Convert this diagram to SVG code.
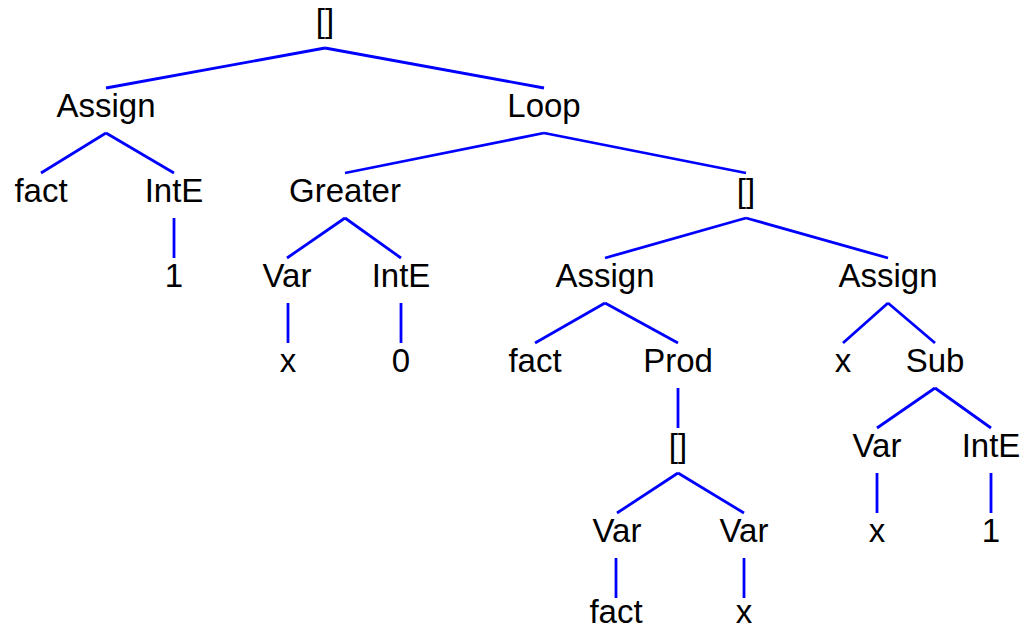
<svg xmlns="http://www.w3.org/2000/svg" width="1022" height="630" viewBox="0 0 1022 630">
<style>
text{font-family:"Liberation Sans",Arial,sans-serif;font-size:33px;fill:#000;text-anchor:middle}
.e line{stroke:#0000ff;stroke-width:2.8;stroke-linecap:butt}
</style>
<rect width="1022" height="630" fill="#fff"/>
<g class="e" id="edges">
<line x1="325" y1="48" x2="106" y2="88"/>
<line x1="325" y1="48" x2="544" y2="88"/>
<line x1="106" y1="133" x2="41" y2="173"/>
<line x1="106" y1="133" x2="174" y2="173"/>
<line x1="174" y1="218" x2="174" y2="258"/>
<line x1="544" y1="133" x2="345" y2="173"/>
<line x1="544" y1="133" x2="746" y2="173"/>
<line x1="345" y1="218" x2="287" y2="258"/>
<line x1="345" y1="218" x2="401" y2="258"/>
<line x1="288" y1="303" x2="288" y2="343"/>
<line x1="401" y1="303" x2="401" y2="343"/>
<line x1="746" y1="218" x2="605" y2="258"/>
<line x1="746" y1="218" x2="888" y2="258"/>
<line x1="605" y1="303" x2="535" y2="343"/>
<line x1="605" y1="303" x2="678" y2="343"/>
<line x1="888" y1="303" x2="843" y2="343"/>
<line x1="888" y1="303" x2="935" y2="343"/>
<line x1="678" y1="388" x2="678" y2="428"/>
<line x1="935" y1="388" x2="877" y2="428"/>
<line x1="935" y1="388" x2="991" y2="428"/>
<line x1="678" y1="473" x2="617" y2="513"/>
<line x1="678" y1="473" x2="744" y2="513"/>
<line x1="877" y1="473" x2="877" y2="513"/>
<line x1="991" y1="473" x2="991" y2="513"/>
<line x1="616" y1="558" x2="616" y2="598"/>
<line x1="744" y1="558" x2="744" y2="598"/>
</g>
<g id="n_root"><text x="325" y="32">[]</text></g>
<g id="n_assign1"><text x="106" y="117">Assign</text></g>
<g id="n_loop"><text x="544" y="117">Loop</text></g>
<g id="n_fact1"><text x="41" y="202">fact</text></g>
<g id="n_inte1"><text x="174" y="202">IntE</text></g>
<g id="n_greater"><text x="345" y="202">Greater</text></g>
<g id="n_list1"><text x="746" y="202">[]</text></g>
<g id="n_one1"><text x="174" y="287">1</text></g>
<g id="n_var1"><text x="287" y="287">Var</text></g>
<g id="n_inte2"><text x="401" y="287">IntE</text></g>
<g id="n_assign2"><text x="605" y="287">Assign</text></g>
<g id="n_assign3"><text x="888" y="287">Assign</text></g>
<g id="n_x1"><text x="288" y="372">x</text></g>
<g id="n_zero"><text x="401" y="372">0</text></g>
<g id="n_fact2"><text x="535" y="372">fact</text></g>
<g id="n_prod"><text x="678" y="372">Prod</text></g>
<g id="n_x2"><text x="843" y="372">x</text></g>
<g id="n_sub"><text x="935" y="372">Sub</text></g>
<g id="n_list2"><text x="678" y="457">[]</text></g>
<g id="n_var2"><text x="877" y="457">Var</text></g>
<g id="n_inte3"><text x="991" y="457">IntE</text></g>
<g id="n_var3"><text x="617" y="542">Var</text></g>
<g id="n_var4"><text x="744" y="542">Var</text></g>
<g id="n_x3"><text x="877" y="542">x</text></g>
<g id="n_one2"><text x="991" y="542">1</text></g>
<g id="n_fact3"><text x="616" y="623">fact</text></g>
<g id="n_x4"><text x="744" y="623">x</text></g>
</svg>
